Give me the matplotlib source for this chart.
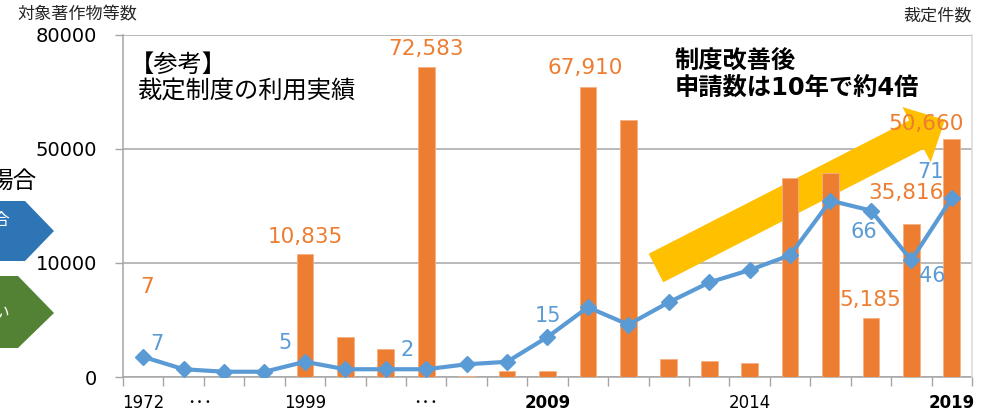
import numpy as np
import matplotlib

matplotlib.use("Agg")

import matplotlib.pyplot as plt
from matplotlib.patches import Polygon


# category axis: 21 slots, only a few carry a year label
YEAR_LABELS = ["1972", "･･･", "", "", "1999", "", "", "･･･", "", "", "2009",
               "", "", "", "", "2014", "", "", "", "", "2019"]
BOLD_YEARS = ["2009", "2019"]

# 対象著作物等数 (bars, left axis)
WORKS = [7, 0, 0, 0, 13200, 3500, 2500, 71700, 100, 500, 500, 66300, 57600,
         1600, 1400, 1200, 39700, 41500, 5185, 23600, 52500]
# 裁定件数 (line, right axis)
RULINGS = [7, 2, 1, 1, 5, 2, 2, 2, 4, 5, 15, 27, 20, 29, 37, 42, 48, 70, 66, 46, 71]

WORK_LABEL_IDX = [0, 4, 7, 11, 18, 19, 20]
WORK_LABEL_TXT = ["7", "10,835", "72,583", "67,910", "5,185", "35,816", "50,660"]
RULING_LABEL_IDX = [0, 4, 7, 10, 18, 19, 20]
RULING_LABEL_TXT = ["7", "5", "2", "15", "66", "46", "71"]

LEFT_TICKS = [0, 10000, 50000, 80000]

W, H = 982, 411
ORANGE = "#ED7D31"
BLUE = "#5B9BD5"
GOLD = "#FFC000"
GRID = "#A6A6A6"
JP = ["DejaVu Sans", "Noto Sans CJK JP"]

# label offsets in pixels (dx, dy up)
WORK_OFFSETS = [(4, 90), (0, 17), (0, 18), (-3, 19), (-1, 18), (-5, 31), (-26, 16)]
RULING_OFFSETS = [(14, 13), (-20, 19), (-19, 19), (0, 21), (-7, -21), (21, -16), (-21, 26)]


def fx(px):
    return px / W


def fy(py):
    return 1 - py / H


def fwd(v):
    return np.interp(v, LEFT_TICKS, [0, 1, 2, 3])


def inv(u):
    return np.interp(u, [0, 1, 2, 3], LEFT_TICKS)


def arrow_poly(x0, y0, x1, y1, w, hw, hl):
    d = np.array([x1 - x0, y1 - y0], dtype=float)
    L = np.hypot(*d)
    u = d / L
    n = np.array([-u[1], u[0]])
    p0 = np.array([x0, y0], dtype=float)
    base = p0 + u * (L - hl)
    pts = [p0 + n * w / 2, base + n * w / 2, base + n * hw / 2, p0 + u * L,
           base - n * hw / 2, base - n * w / 2, p0 - n * w / 2]
    return [(fx(p[0]), fy(p[1])) for p in pts]


def main():
    plt.rcParams["font.family"] = JP

    fig = plt.figure(figsize=(W / 100, H / 100), dpi=100)
    ax = fig.add_axes([fx(123), fy(377), fx(972) - fx(123), fy(35) - fy(377)])

    x = np.arange(len(WORKS))
    ax.set_yscale("function", functions=(fwd, inv))
    ax.set_ylim(0, 80000)
    ax.set_xlim(-0.5, len(WORKS) - 0.5)

    ax.bar(x, WORKS, width=0.41, color=ORANGE, edgecolor="#F4B183",
           linewidth=0.6, zorder=3)

    ax.set_yticks(LEFT_TICKS)
    ax.set_yticklabels([str(t) for t in LEFT_TICKS], fontsize=14)
    ax.tick_params(axis="y", length=5.8, width=1.0, color=GRID, pad=13)
    ax.grid(axis="y", color=GRID, linewidth=1.1, zorder=0)
    ax.set_axisbelow(True)

    ax.set_xticks(np.arange(-0.5, len(WORKS), 1.0))
    ax.set_xticklabels([])
    ax.tick_params(axis="x", which="major", length=6.8, width=1.0, color=GRID)
    lab_pos = [i + (0.4 if i == 1 else 0) for i, l in enumerate(YEAR_LABELS) if l]
    lab_txt = [l for l in YEAR_LABELS if l]
    ax.set_xticks(lab_pos, minor=True)
    ax.set_xticklabels(lab_txt, minor=True, fontsize=12)
    ax.tick_params(axis="x", which="minor", length=0, pad=12)
    for t in ax.get_xticklabels(minor=True):
        if t.get_text() in BOLD_YEARS:
            t.set_fontweight("bold")

    for side in ("left", "bottom"):
        ax.spines[side].set_color(GRID)
        ax.spines[side].set_linewidth(1.1)
    ax.spines["top"].set_visible(False)
    ax.spines["right"].set_visible(False)

    # big gold arrow behind the bars
    arrow = Polygon(arrow_poly(656, 268, 945, 120, 32, 62, 32), closed=True,
                    facecolor=GOLD, edgecolor="none", transform=fig.transFigure,
                    zorder=2, clip_on=False)
    ax.add_patch(arrow)

    for i, txt, (dx, dy) in zip(WORK_LABEL_IDX, WORK_LABEL_TXT, WORK_OFFSETS):
        ax.annotate(txt, xy=(x[i], WORKS[i]), xytext=(dx, dy),
                    textcoords="offset pixels", ha="center", va="center",
                    color=ORANGE, fontsize=15.5, zorder=6)

    ax2 = ax.twinx()
    ax2.set_ylim(-1.13, 136.8)
    ax2.plot(x, RULINGS, color=BLUE, linewidth=3, marker="D", markersize=8,
             zorder=4)
    ax2.set_yticks([])
    for side in ("left", "bottom", "top"):
        ax2.spines[side].set_visible(False)
    ax2.spines["right"].set_color("#D9D9D9")
    ax2.spines["right"].set_linewidth(1.1)

    for i, txt, (dx, dy) in zip(RULING_LABEL_IDX, RULING_LABEL_TXT, RULING_OFFSETS):
        ax2.annotate(txt, xy=(x[i], RULINGS[i]), xytext=(dx, dy),
                     textcoords="offset pixels", ha="center", va="center",
                     color=BLUE, fontsize=15, zorder=6)

    # axis titles
    fig.text(fx(17), fy(14), "対象著作物等数", fontsize=12.3, ha="left",
             va="center", color="#262626")
    fig.text(fx(972), fy(15), "裁定件数", fontsize=12.3, ha="right",
             va="center", color="#262626")

    # chart annotations
    fig.text(fx(130), fy(65), "【参考】", fontsize=17.5, ha="left", va="center")
    fig.text(fx(137), fy(92), "裁定制度の利用実績", fontsize=17.5, ha="left",
             va="center")
    fig.text(fx(675), fy(62), "制度改善後", fontsize=17.5, ha="left",
             va="center", fontweight="bold")
    fig.text(fx(675), fy(88), "申請数は10年で約4倍", fontsize=17.5, ha="left",
             va="center", fontweight="bold")

    # slide shapes that sit partly off the left edge
    blue_tag = [(0, 201), (25, 201), (54, 231), (25, 261), (0, 261)]
    green_tag = [(0, 276), (18, 276), (54, 313), (18, 348), (0, 348)]
    for pts, col in ((blue_tag, "#2E75B6"), (green_tag, "#548235")):
        fig.patches.append(Polygon([(fx(a), fy(b)) for a, b in pts], closed=True,
                                   facecolor=col, edgecolor="none",
                                   transform=fig.transFigure))
    fig.text(fx(36), fy(181), "場合", fontsize=17, ha="right", va="center")
    fig.text(fx(9), fy(220), "合", fontsize=12, ha="right", va="center",
             color="white")
    fig.text(fx(9), fy(313), "い", fontsize=12, ha="right", va="center",
             color="white")

    fig.savefig("out.png", dpi=100)


if __name__ == "__main__":
    main()
